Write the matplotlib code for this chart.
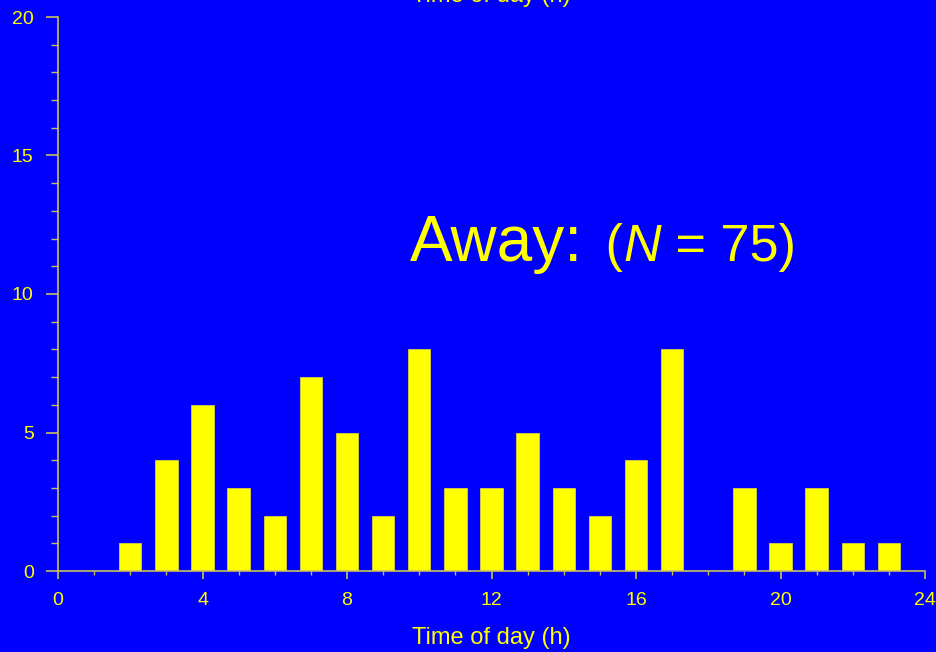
import matplotlib
matplotlib.use("Agg")
import matplotlib.pyplot as plt
from matplotlib.ticker import MultipleLocator

hours = [2, 3, 4, 5, 6, 7, 8, 9, 10, 11, 12, 13, 14, 15, 16, 17, 18, 19, 20, 21, 22, 23]
counts = [1, 4, 6, 3, 2, 7, 5, 2, 8, 3, 3, 5, 3, 2, 4, 8, 0, 3, 1, 3, 1, 1]
x_ticks = [0, 4, 8, 12, 16, 20, 24]
y_ticks = [0, 5, 10, 15, 20]
xlabel = "Time of day (h)"
title_main = "Away:"
n_total = 75

BLUE = "#0000FF"
YEL = "#FFFF00"
AXC = "#C8C060"

plt.rcParams['font.family'] = ['Liberation Sans', 'DejaVu Sans']

W, H = 936, 652
fig = plt.figure(figsize=(W / 100, H / 100), dpi=100, facecolor=BLUE)
ax = fig.add_axes([58 / W, (H - 571) / H, (925 - 58) / W, (571 - 17) / H])
ax.set_facecolor(BLUE)

ax.bar(hours, counts, width=0.62, color=YEL, edgecolor="#D8D040", linewidth=0.6, zorder=2)

ax.set_xlim(0, 24)
ax.set_ylim(0, 20)
ax.set_xticks(x_ticks)
ax.set_yticks(y_ticks)
ax.xaxis.set_minor_locator(MultipleLocator(1))
ax.yaxis.set_minor_locator(MultipleLocator(1))

for s in ("top", "right"):
    ax.spines[s].set_visible(False)
for s in ("left", "bottom"):
    ax.spines[s].set_color(AXC)
    ax.spines[s].set_linewidth(1.2)

ax.tick_params(axis="y", which="major", length=8.5, width=1.2, color=AXC,
               labelcolor=YEL, labelsize=14, pad=9)
ax.tick_params(axis="y", which="minor", length=5, width=1.0, color=AXC)
ax.tick_params(axis="x", which="major", length=6, width=1.2, color=AXC,
               labelcolor=YEL, labelsize=14, pad=9)
ax.tick_params(axis="x", which="minor", length=3, width=1.0, color=AXC)

# axis label (bottom) and the clipped copy at the top
fig.text(491.5 / W, (H - 644) / H, xlabel, color=YEL, fontsize=17,
         ha="center", va="baseline")
fig.text(491.5 / W, (H - 2) / H, xlabel, color=YEL, fontsize=17,
         ha="center", va="baseline")

# annotation built from pieces on a common baseline
fig.canvas.draw()
r = fig.canvas.get_renderer()
base_y = (571 - 261) / 27.7
x0 = 9.75
t1 = ax.text(x0, base_y, title_main, color=YEL, fontsize=46, va="baseline", ha="left")
pieces = [(" (", "normal", 8), ("N", "italic", 0), (f" = {n_total})", "normal", 0)]
prev = t1
inv = ax.transData.inverted()
for s, style, gap in pieces:
    bb = prev.get_window_extent(r)
    xd = inv.transform((bb.x1 + gap, bb.y0))[0]
    prev = ax.text(xd, base_y, s, color=YEL, fontsize=37.5, style=style,
                   va="baseline", ha="left")
    fig.canvas.draw()

fig.savefig("out.png", dpi=100, facecolor=BLUE)
